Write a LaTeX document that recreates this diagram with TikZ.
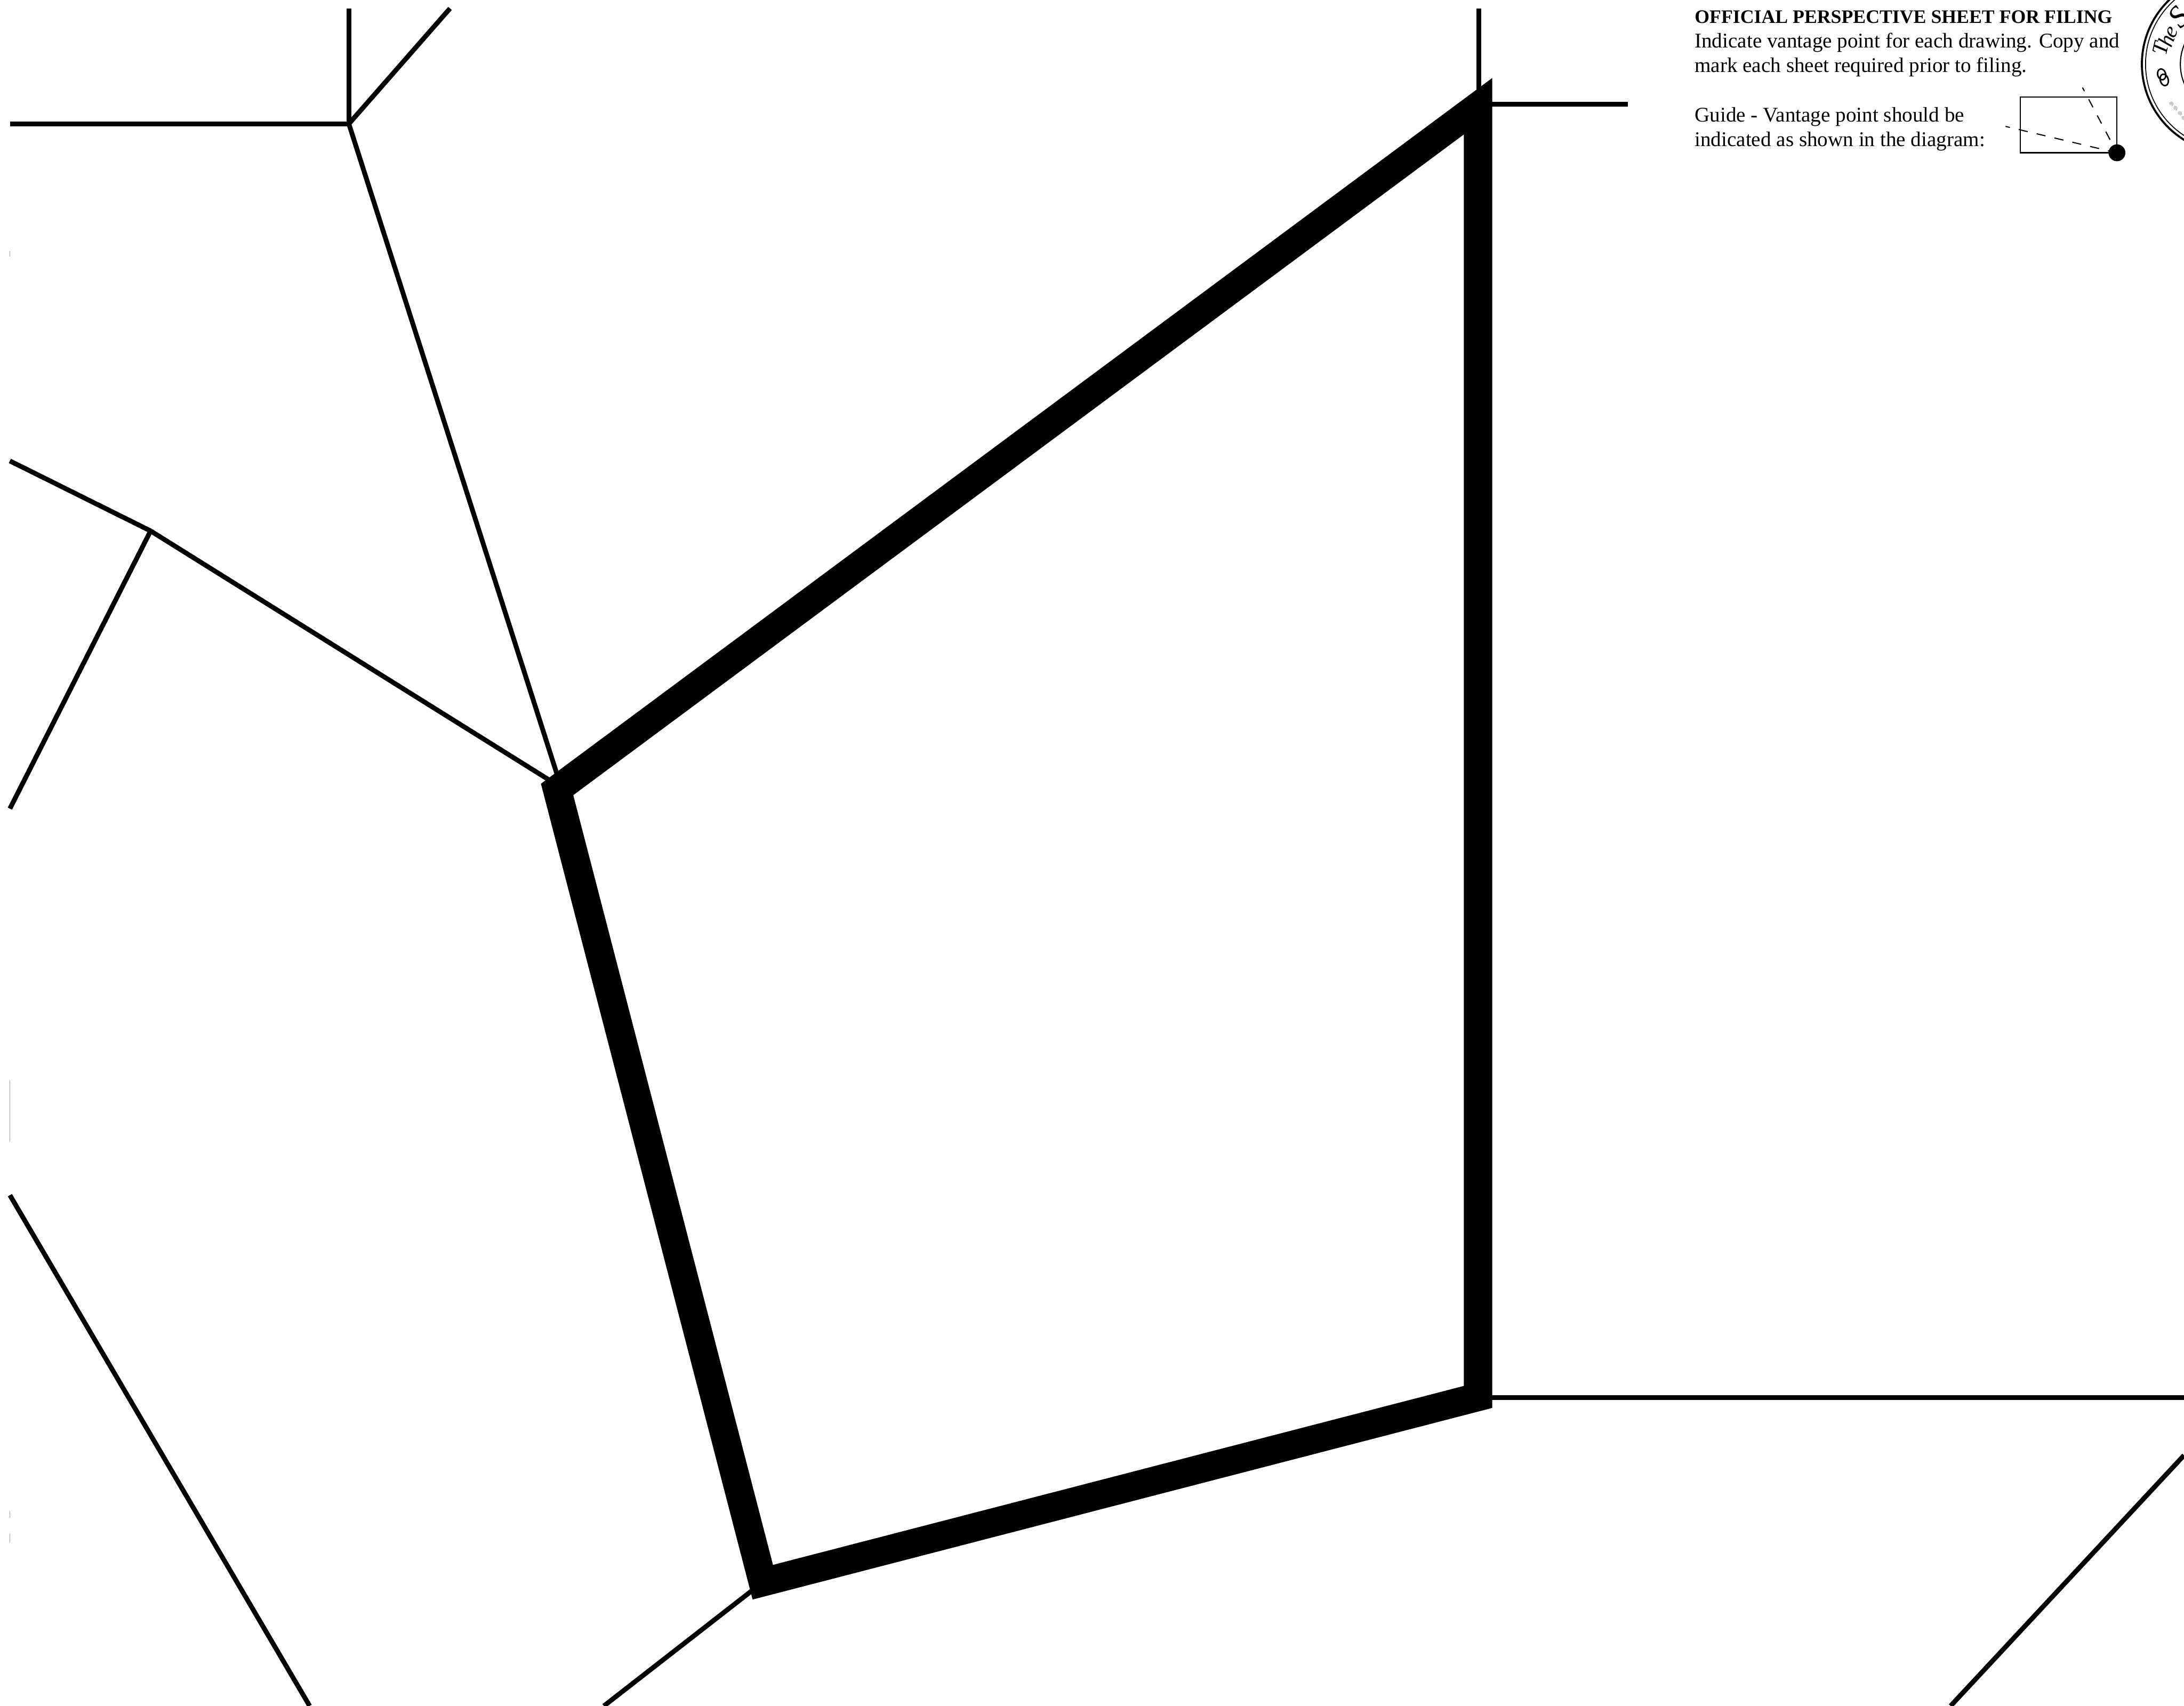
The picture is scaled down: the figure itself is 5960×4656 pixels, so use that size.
\documentclass[tikz,border=0pt]{standalone}
\usepackage{fontspec}
\setmainfont{Liberation Serif}
\usetikzlibrary{calc}

\tikzset{
  wall/.style={line width=0.775cm, line join=miter, miter limit=10},
  edgeline/.style={line width=0.13cm},
  faint/.style={line width=0.025cm, gray!70},
  sheettext/.style={anchor=base west, inner sep=0pt, font=\fontsize{16.2}{19}\selectfont},
  sightline/.style={line width=0.03cm, dash pattern=on 0.25cm off 0.25cm},
  sealletter/.style={inner sep=0pt, font=\fontsize{17}{20}\selectfont\itshape}
}

\begin{document}
\begin{tikzpicture}[x=0.01cm, y=-0.01cm]
        \clip (0, 0) rectangle (5960, 4656);
        \fill[white] (0, 0) rectangle (5960, 4656);
        % corners of the heavy outline
        \coordinate (roomTR) at (4033.3, 290);
        \coordinate (roomBR) at (4033.3, 3812.7);
        \coordinate (roomBL) at (2081.6, 4318.3);
        \coordinate (roomL) at (1520.3, 2154.6);
        % junctions of the thin lines
        \coordinate (hubA) at (952, 338);
        \coordinate (hubB) at (411, 1449);
        \coordinate (wallEndA) at (1527, 2135);
        \coordinate (wallEndB) at (1515, 2139);
        % thin lines, upper left
        \draw[edgeline] (27, 338) -- (hubA);
        \draw[edgeline] (952, 23) -- (hubA);
        \draw[edgeline] (1228, 23) -- (hubA);
        \draw[edgeline] (hubA) -- (wallEndA);
        % thin lines, left
        \draw[edgeline] (27, 1258) -- (hubB);
        \draw[edgeline] (27, 2207) -- (hubB);
        \draw[edgeline] (hubB) -- (wallEndB);
        % thin lines, bottom and right
        \draw[edgeline] (27, 3262) -- (845, 4656);
        \draw[edgeline] (1648, 4656) -- (roomBL);
        \draw[edgeline] (5323, 4656) -- (5960, 3972);
        \draw[edgeline] (4035, 23) -- (4035, 284);
        \draw[edgeline] (4035, 284) -- (4443, 284);
        \draw[edgeline] (4035, 3814) -- (5960, 3814);
        % leftovers along the left margin
        \foreach \ya/\yb in {686/700, 2948/3116, 4123/4142, 4186/4211} {
          \draw[faint] (27, \ya) -- (27, \yb);
        }
        \draw[wall] (roomTR) -- (roomBR) -- (roomBL) -- (roomL) -- cycle;
        % sheet notes
        \node[sheettext, font=\fontsize{14.8}{19}\selectfont\bfseries] (title) at (4624, 63) {OFFICIAL PERSPECTIVE SHEET FOR FILING};
        \node[sheettext] (hintA) at (4624, 130) {Indicate vantage point for each drawing. Copy and};
        \node[sheettext] (hintB) at (4624, 197) {mark each sheet required prior to filing.};
        \node[sheettext] (guideA) at (4624, 332) {Guide - Vantage point should be};
        \node[sheettext] (guideB) at (4624, 399) {indicated as shown in the diagram:};
        % small guide diagram
        \coordinate (vantage) at (5777, 417);
        \coordinate (sightA) at (5683, 239);
        \coordinate (sightB) at (5473, 345);
        \draw[line width=0.035cm] (5513, 265) rectangle (vantage);
        \draw[sightline, dash phase=0.14cm] (sightA) -- (vantage);
        \draw[sightline, dash phase=0.13cm] (sightB) -- (vantage);
        \fill (vantage) circle (23);
        % seal, cut by the sheet edge
        \coordinate (seal) at (6088, 175);
        \draw[line width=0.055cm] (seal) circle (243);
        \draw[line width=0.025cm] (seal) circle (233);
        \draw[line width=0.03cm] (seal) circle (138);
        \foreach \ch/\x/\y/\rot in {T/5896/133/77, h/5911/110/70, e/5928/88/61} {
          \node[sealletter, rotate=\rot] at (\x, \y) {\ch};
        }
        \node[sealletter, rotate=48, font=\fontsize{24}{27}\selectfont\itshape] at (5946, 47) {S};
        % linked rings
        \draw[line width=0.04cm, rotate around={15:(5899, 203)}] (5899, 203) ellipse [x radius=11, y radius=15];
        \draw[line width=0.04cm, rotate around={15:(5906, 218)}] (5906, 218) ellipse [x radius=11, y radius=16];
        % small curls
        \foreach \x/\y in {5925/283, 5936/295, 5948/309, 5958/322} {
          \draw[gray!70, line width=0.012cm] plot[variable=\ang, domain=0:800, samples=40, smooth] ({\x + 0.0075*\ang*cos(\ang)}, {\y + 0.0075*\ang*sin(\ang)});
        }
      \end{tikzpicture}
\end{document}
